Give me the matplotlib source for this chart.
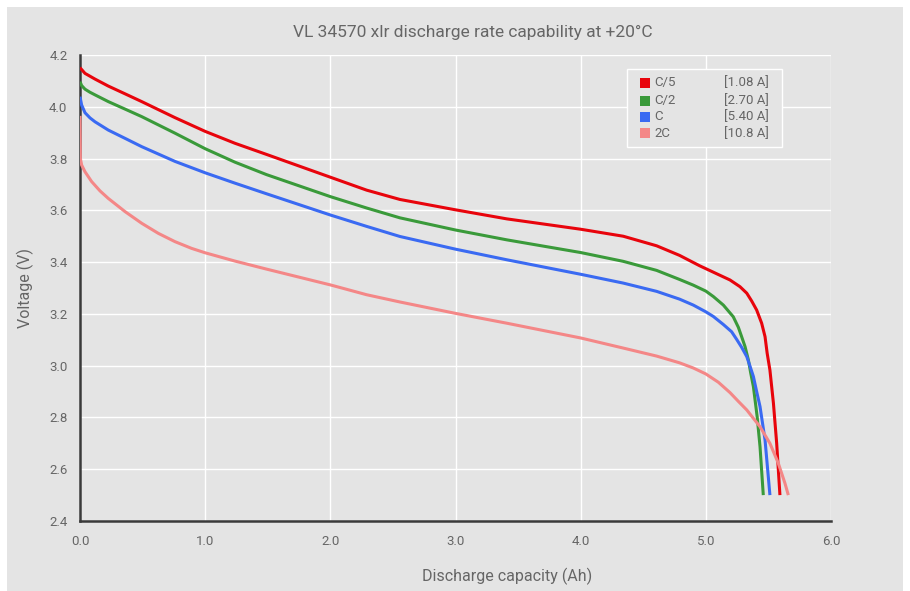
"""VL 34570 xlr discharge rate capability at +20 degC, four discharge rates."""

import matplotlib
matplotlib.use("Agg")
import matplotlib.pyplot as plt
from matplotlib.patches import Rectangle

# --- data --------------------------------------------------------------
rate_names = ["C/5", "C/2", "C", "2C"]
rate_currents = ["[1.08 A]", "[2.70 A]", "[5.40 A]", "[10.8 A]"]

cap_c5 = [0.0, 0.04, 0.12, 0.226, 0.36, 0.493, 0.759, 1.0, 1.238, 1.49, 2.0,
          2.29, 2.556, 3.0, 3.41, 4.0, 4.34, 4.607, 4.79, 4.95, 5.10, 5.193,
          5.273, 5.327, 5.366, 5.406, 5.446, 5.473, 5.49, 5.512, 5.54, 5.566,
          5.592]
volt_c5 = [4.151, 4.129, 4.107, 4.080, 4.050, 4.020, 3.958, 3.905, 3.859, 3.816,
           3.728, 3.678, 3.642, 3.602, 3.567, 3.527, 3.500, 3.463, 3.426, 3.386,
           3.352, 3.331, 3.305, 3.280, 3.250, 3.215, 3.164, 3.112, 3.048, 2.983,
           2.855, 2.700, 2.500]

cap_c2 = [0.0, 0.013, 0.04, 0.08, 0.12, 0.226, 0.36, 0.493, 0.759, 1.0, 1.238,
          1.49, 2.0, 2.29, 2.556, 3.0, 3.41, 4.0, 4.34, 4.607, 4.79, 4.9, 5.0,
          5.06, 5.14, 5.219, 5.26, 5.286, 5.313, 5.34, 5.358, 5.38, 5.41, 5.433,
          5.459]
volt_c2 = [4.097, 4.082, 4.068, 4.056, 4.046, 4.020, 3.991, 3.962, 3.898, 3.838,
           3.786, 3.738, 3.653, 3.609, 3.571, 3.524, 3.486, 3.437, 3.403, 3.368,
           3.333, 3.311, 3.288, 3.267, 3.234, 3.189, 3.148, 3.112, 3.074, 3.022,
           2.973, 2.919, 2.803, 2.687, 2.500]

cap_c1 = [0.0, 0.013, 0.04, 0.08, 0.12, 0.173, 0.226, 0.36, 0.493, 0.759, 1.0,
          1.238, 1.49, 2.0, 2.29, 2.556, 3.0, 3.41, 4.0, 4.34, 4.607, 4.79, 4.9,
          5.0, 5.06, 5.14, 5.206, 5.247, 5.286, 5.327, 5.353, 5.38, 5.406,
          5.433, 5.473, 5.512]
volt_c1 = [4.039, 4.007, 3.977, 3.957, 3.942, 3.926, 3.910, 3.878, 3.846, 3.789,
           3.745, 3.705, 3.664, 3.582, 3.538, 3.499, 3.450, 3.409, 3.353, 3.319,
           3.287, 3.257, 3.234, 3.208, 3.190, 3.159, 3.131, 3.101, 3.071, 3.035,
           2.998, 2.958, 2.900, 2.842, 2.713, 2.500]

cap_2c = [0.0, 0.003, 0.013, 0.04, 0.093, 0.16, 0.226, 0.36, 0.493, 0.626,
          0.759, 0.892, 1.0, 1.238, 1.49, 2.0, 2.29, 2.556, 3.0, 3.41, 4.0,
          4.34, 4.607, 4.79, 4.9, 5.0, 5.10, 5.193, 5.26, 5.327, 5.433, 5.512,
          5.579, 5.632, 5.659]
volt_2c = [3.965, 3.800, 3.775, 3.749, 3.711, 3.675, 3.646, 3.595, 3.550, 3.511,
           3.479, 3.453, 3.436, 3.404, 3.373, 3.312, 3.274, 3.246, 3.202, 3.164,
           3.107, 3.068, 3.037, 3.011, 2.991, 2.968, 2.936, 2.896, 2.862, 2.829,
           2.764, 2.700, 2.623, 2.546, 2.500]

x_ticks = [0.0, 1.0, 2.0, 3.0, 4.0, 5.0, 6.0]
y_ticks = [2.4, 2.6, 2.8, 3.0, 3.2, 3.4, 3.6, 3.8, 4.0, 4.2]

# --- styling -----------------------------------------------------------
colors = ["#e8040c", "#3a9a3a", "#3a6af2", "#f48787"]
panel = "#e4e4e4"
text_c = "#666666"
plt.rcParams["font.family"] = ["Roboto", "DejaVu Sans"]

fig = plt.figure(figsize=(9.1, 5.91), dpi=100, facecolor="white")
fig.patches.append(Rectangle((7 / 910, 0), 896 / 910, 1 - 7 / 591,
                             transform=fig.transFigure, facecolor=panel,
                             edgecolor="none", zorder=-10))
ax = fig.add_axes([80 / 910, 1 - 521 / 591, 751 / 910, 466 / 591])
ax.set_facecolor(panel)

series = [(cap_c5, volt_c5), (cap_c2, volt_c2), (cap_c1, volt_c1), (cap_2c, volt_2c)]
for (cx, vy), col in zip(series, colors):
    ax.plot(cx, vy, color=col, lw=2.2, solid_capstyle="butt",
            solid_joinstyle="round", zorder=3)

ax.set_xlim(0, 6.0)
ax.set_ylim(2.4, 4.2)
ax.set_xticks(x_ticks)
ax.set_xticklabels([f"{v:.1f}" for v in x_ticks])
ax.set_yticks(y_ticks)
ax.set_yticklabels([f"{v:.1f}" for v in y_ticks])
ax.tick_params(length=0, colors=text_c, labelsize=9.5)
ax.tick_params(axis="x", pad=10)
ax.tick_params(axis="y", pad=9)
ax.grid(True, color="white", lw=1.0)
ax.set_axisbelow(True)
for side in ("top", "right"):
    ax.spines[side].set_visible(False)
for side in ("left", "bottom"):
    ax.spines[side].set_color("#3a3a3a")
    ax.spines[side].set_linewidth(1.8)
    ax.spines[side].set_zorder(2)

fig.text(473 / 910, 1 - 32 / 591, "VL 34570 xlr discharge rate capability at +20°C",
         ha="center", va="center", fontsize=12.5, color=text_c)
fig.text(507 / 910, 1 - 576 / 591, "Discharge capacity (Ah)",
         ha="center", va="center", fontsize=11.5, color=text_c)
fig.text(25 / 910, 1 - 288 / 591, "Voltage (V)", rotation=90,
         ha="center", va="center", fontsize=11.5, color=text_c)

# --- legend, drawn by hand to get the two text columns ----------------
ax.add_patch(Rectangle((0.729, 0.802), 0.206, 0.167, transform=ax.transAxes,
                       facecolor=panel, edgecolor="white", lw=1.0, zorder=4))
row_y = [0.9406, 0.902, 0.8676, 0.832]
for name, cur, col, yy in zip(rate_names, rate_currents, colors, row_y):
    ax.add_patch(Rectangle((0.7457, yy - 0.011), 0.0133, 0.022,
                           transform=ax.transAxes, facecolor=col,
                           edgecolor="none", zorder=5))
    ax.text(0.7643, yy, name, transform=ax.transAxes, va="center",
            fontsize=9.5, color=text_c, zorder=5)
    ax.text(0.8575, yy, cur, transform=ax.transAxes, va="center",
            fontsize=9.5, color=text_c, zorder=5)

fig.savefig("out.png", dpi=100, facecolor=fig.get_facecolor())
